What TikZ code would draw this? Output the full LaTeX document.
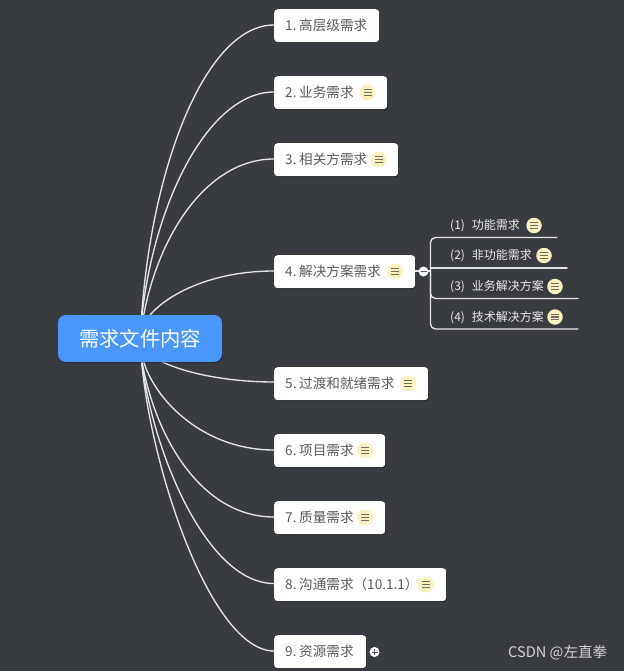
\documentclass[tikz,border=0pt]{standalone}
\usepackage{fontspec}
\setmainfont{Noto Sans CJK SC}
\usetikzlibrary{shadows}
\definecolor{bgc}{HTML}{383B40}
\definecolor{rootc}{HTML}{4A98FF}
\definecolor{txtc}{HTML}{5A5A5A}
\definecolor{subc}{HTML}{E8E8E8}
\definecolor{iconc}{HTML}{FBF1C0}
\definecolor{barc}{HTML}{6E6E60}
\definecolor{linkc}{HTML}{E4E4E4}
\tikzset{
  x=1pt,y=-1pt,
  topic/.style={draw=none,fill=white,rounded corners=3.5pt,minimum height=33pt,inner sep=0pt,anchor=north west,text=txtc,drop shadow={shadow xshift=0.6pt,shadow yshift=-1pt,opacity=.5,fill=black}},
  roottopic/.style={fill=rootc,rounded corners=8pt,minimum width=164pt,minimum height=47pt,inner sep=0pt,text=white,font=\fontsize{20.3}{24}\selectfont,drop shadow={shadow xshift=0.6pt,shadow yshift=-1pt,opacity=.4,fill=black}},
  topictext/.style={anchor=west,inner sep=0pt,text=txtc,font=\fontsize{13.6}{15}\selectfont},
  subtopic/.style={anchor=west,inner sep=0pt,text=subc,font=\fontsize{12}{14}\selectfont},
  link/.style={draw=linkc,line width=1.35pt,line cap=round},
  noteicon/.style={circle,fill=iconc,minimum size=16pt,inner sep=0pt},
  toggle/.style={circle,fill=white,minimum size=10pt,inner sep=0pt},
}
\newcommand{\bars}[1]{%
  \foreach \d in {-2.6,0,2.6}{\draw[barc,line width=1.05pt] ([xshift=-4pt,yshift=\d pt]#1.center) -- ([xshift=4pt,yshift=\d pt]#1.center);}}
\newcommand{\topicbox}[5]{% name, x, y, width, text
  \node[topic,minimum width=#4pt] (#1) at (#2,#3) {};
  \node[topictext] (#1t) at (285,#3+16.5) {#5};}
\begin{document}
\begin{tikzpicture}
\useasboundingbox[fill=bgc] (0,0) rectangle (624,671);
\coordinate (r1) at (141,325);
\coordinate (r2) at (141,325);
\coordinate (r3) at (142,325);
\coordinate (r4) at (150,315);
\coordinate (r5) at (150,355);
\coordinate (r6) at (142,355);
\coordinate (r7) at (141,355);
\coordinate (r8) at (141,355);
\coordinate (r9) at (141,355);
\coordinate (t1) at (274,25);
\coordinate (t2) at (274,92);
\coordinate (t3) at (274,159);
\coordinate (t4) at (274,271);
\coordinate (t5) at (274,382);
\coordinate (t6) at (274,450);
\coordinate (t7) at (274,517);
\coordinate (t8) at (274,583.5);
\coordinate (t9) at (274,651);
\draw[link] (r1) .. controls (150,170) and (205,25) .. (t1);
\draw[link] (r2) .. controls (152,205) and (208,92) .. (t2);
\draw[link] (r3) .. controls (155,240) and (205,159) .. (t3);
\draw[link] (r4) .. controls (170,292) and (215,271) .. (t4);
\draw[link] (r5) .. controls (175,372) and (225,382) .. (t5);
\draw[link] (r6) .. controls (150,395) and (200,450) .. (t6);
\draw[link] (r7) .. controls (152,430) and (198,517) .. (t7);
\draw[link] (r8) .. controls (150,445) and (205,583.5) .. (t8);
\draw[link] (r9) .. controls (150,470) and (212,651) .. (t9);
\node[roottopic] (root) at (140,338.5) {需求文件内容};
\topicbox{n1}{274}{9}{105}{1.\hspace{2.7pt}高层级需求}
\topicbox{n2}{274}{76}{113}{2.\hspace{2.7pt}业务需求}
\topicbox{n3}{274}{143}{124}{3.\hspace{2.7pt}相关方需求}
\topicbox{n4}{274}{255}{141}{4.\hspace{2.7pt}解决方案需求}
\topicbox{n5}{274}{367}{154}{5.\hspace{2.7pt}过渡和就绪需求}
\topicbox{n6}{274}{434}{111}{6.\hspace{2.7pt}项目需求}
\topicbox{n7}{274}{501}{111}{7.\hspace{2.7pt}质量需求}
\topicbox{n8}{274}{568}{172}{8.\hspace{2.7pt}沟通需求（10.1.1）}
\topicbox{n9}{274}{635}{92}{9.\hspace{2.7pt}资源需求}
\node[noteicon] (i2) at (367.5,92.5) {}; \bars{i2}
\node[noteicon] (i3) at (378.5,159.5) {}; \bars{i3}
\node[noteicon] (i4) at (395,271.5) {}; \bars{i4}
\node[noteicon] (i5) at (408,383.5) {}; \bars{i5}
\node[noteicon] (i6) at (365,450.5) {}; \bars{i6}
\node[noteicon] (i7) at (365,517.5) {}; \bars{i7}
\node[noteicon] (i8) at (426,584.5) {}; \bars{i8}
% subtopics
\node[subtopic] (s1) at (450,226) {(1)\hspace{7pt}功能需求};
\node[subtopic] (s2) at (450,256) {(2)\hspace{7pt}非功能需求};
\node[subtopic] (s3) at (450,287) {(3)\hspace{7pt}业务解决方案};
\node[subtopic] (s4) at (450,318) {(4)\hspace{7pt}技术解决方案};
\node[noteicon,minimum size=15.5pt] (j1) at (534,225.5) {}; \bars{j1}
\node[noteicon,minimum size=15.5pt] (j2) at (544,255.5) {}; \bars{j2}
\node[noteicon,minimum size=15.5pt] (j3) at (555,286.5) {}; \bars{j3}
\node[noteicon,minimum size=15.5pt] (j4) at (555,317) {}; \bars{j4}
\coordinate (e1) at (557,237.5);
\coordinate (e2) at (567,268);
\coordinate (e3) at (578,298.5);
\coordinate (e4) at (578,329);
\coordinate (bus) at (430.5,271);
\coordinate (bt) at (430.5,237.5);
\coordinate (b2) at (430.5,268);
\coordinate (b3) at (430.5,298.5);
\coordinate (bb) at (430.5,329);
\draw[link] (n4.east |- bus) -- (bus);
\draw[link,rounded corners=5pt] (bus) -- (bt) -- (e1);
\draw[link] (b2) -- (e2);
\draw[link,rounded corners=5pt] (bus) -- (b3) -- (e3);
\draw[link,rounded corners=5pt] (bus) -- (bb) -- (e4);
\node[toggle] (tg) at (423.5,271.5) {};
\draw[txtc,line width=.9pt] ([xshift=-3pt]tg.center) -- ([xshift=3pt]tg.center);
\node[toggle] (tp) at (374.5,652) {};
\draw[txtc,line width=.9pt] ([xshift=-3pt]tp.center) -- ([xshift=3pt]tp.center) ([yshift=-3pt]tp.center) -- ([yshift=3pt]tp.center);
\node[anchor=west,inner sep=0pt,text=subc!88!bgc,font=\fontsize{14.6}{16}\selectfont] (wm) at (508,653) {CSDN @左直拳};
\end{tikzpicture}
\end{document}
